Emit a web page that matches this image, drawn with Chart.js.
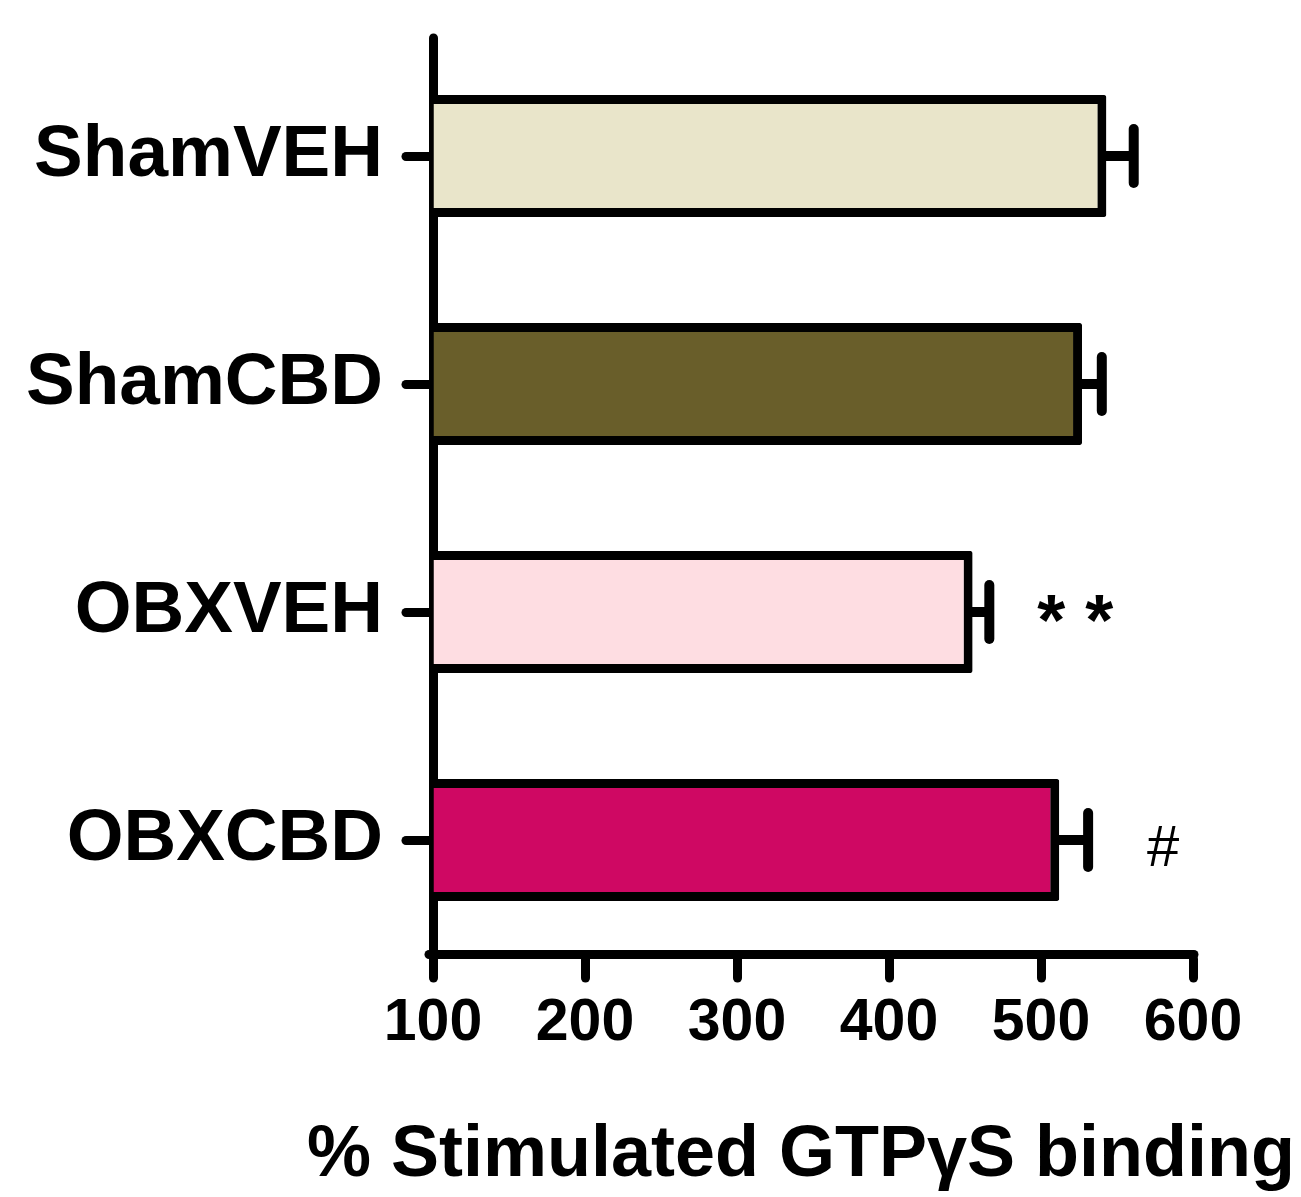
<!DOCTYPE html>
<html>
<head>
<meta charset="utf-8">
<script src="https://cdn.jsdelivr.net/npm/chart.js@4/dist/chart.umd.min.js"></script>
<style>
  html, body { margin: 0; padding: 0; background: #ffffff; }
  #wrap { width: 1301px; height: 1197px; position: relative; }
</style>
</head>
<body>
<div id="wrap"><canvas id="chart" width="1301" height="1197"></canvas></div>
<script>
// Group names, mean stimulation and SEM for each group
const categories = ['ShamVEH', 'ShamCBD', 'OBXVEH', 'OBXCBD'];
const meanValues = [543, 527, 455, 512];
const semValues = [18, 13, 11, 19];
const significance = ['', '', '* *', '#'];
const xTickValues = [100, 200, 300, 400, 500, 600];
const barColors = ['#e9e5ca', '#695e2a', '#fedde2', '#cf0863'];

const FONT = "'Liberation Sans', Arial, Helvetica, sans-serif";

// Round line ends for axes and tick marks
const roundCaps = {
  id: 'roundCaps',
  beforeDraw(chart) { chart.ctx.lineCap = 'round'; chart.ctx.lineJoin = 'round'; }
};

// SEM whiskers: stem from the end of each bar to a vertical cap
const errorBars = {
  id: 'errorBars',
  afterDatasetsDraw(chart) {
    const ctx = chart.ctx;
    const xs = chart.scales.x;
    const meta = chart.getDatasetMeta(0);
    ctx.save();
    ctx.strokeStyle = '#000';
    ctx.lineWidth = 10;
    meta.data.forEach((bar, i) => {
      const x0 = xs.getPixelForValue(meanValues[i]);
      const x1 = xs.getPixelForValue(meanValues[i] + semValues[i]);
      ctx.lineCap = 'butt';
      ctx.beginPath();
      ctx.moveTo(x0 - 6, bar.y);
      ctx.lineTo(x1, bar.y);
      ctx.stroke();
      ctx.lineCap = 'round';
      ctx.beginPath();
      ctx.moveTo(x1, bar.y - 27);
      ctx.lineTo(x1, bar.y + 27);
      ctx.stroke();
    });
    ctx.restore();
  }
};

// Significance marks beside the whiskers, and the value-axis title
const markStyles = {
  '* *': { font: 'bold 72px ' + FONT, dx: 48, dy: 33 },
  '#': { font: '58px ' + FONT, dx: 59, dy: 26 }
};
const annotations = {
  id: 'annotations',
  afterDraw(chart) {
    const ctx = chart.ctx;
    const xs = chart.scales.x;
    const meta = chart.getDatasetMeta(0);
    ctx.save();
    ctx.fillStyle = '#000';
    ctx.textBaseline = 'alphabetic';
    ctx.textAlign = 'left';
    significance.forEach((mark, i) => {
      if (!mark) return;
      const st = markStyles[mark];
      const bar = meta.data[i];
      const xc = xs.getPixelForValue(meanValues[i] + semValues[i]);
      ctx.font = st.font;
      ctx.fillText(mark, xc + st.dx, bar.y + st.dy);
    });
    ctx.font = 'bold 72px ' + FONT;
    ctx.textAlign = 'center';
    ctx.fillText('% Stimulated GTP\u03B3S binding', 801, 1176);
    ctx.restore();
  }
};

new Chart(document.getElementById('chart'), {
  type: 'bar',
  data: {
    labels: categories,
    datasets: [{
      data: meanValues,
      base: 100,
      backgroundColor: barColors,
      borderColor: '#000',
      borderWidth: 9,
      borderRadius: 2,
      borderSkipped: 'start',
      categoryPercentage: 1,
      barPercentage: 0.535
    }]
  },
  options: {
    indexAxis: 'y',
    responsive: false,
    animation: false,
    devicePixelRatio: 1,
    layout: { autoPadding: false, padding: { top: 42, right: 108, bottom: 0, left: 0 } },
    plugins: { legend: { display: false }, tooltip: { enabled: false } },
    scales: {
      x: {
        min: 100,
        max: 600,
        z: 1,
        afterBuildTicks(scale) { scale.ticks = xTickValues.map(v => ({ value: v })); },
        afterFit(scale) { scale.height = 243; scale.paddingLeft = 0; scale.paddingRight = 0; },
        border: { display: true, color: '#000', width: 9 },
        grid: { display: true, drawOnChartArea: false, drawTicks: true, tickLength: 24, tickWidth: 9, tickColor: '#000' },
        ticks: { color: '#000', padding: 10, font: { family: FONT, size: 59, weight: 'bold' } }
      },
      y: {
        z: 1,
        afterFit(scale) { scale.width = 433; scale.paddingTop = 0; scale.paddingBottom = 0; },
        border: { display: true, color: '#000', width: 9 },
        grid: { display: true, offset: false, drawOnChartArea: false, drawTicks: true, tickLength: 27, tickWidth: 9, tickColor: '#000' },
        ticks: { color: '#000', padding: 23, font: { family: FONT, size: 73, weight: 'bold' } }
      }
    }
  },
  plugins: [roundCaps, errorBars, annotations]
});
</script>
</body>
</html>
